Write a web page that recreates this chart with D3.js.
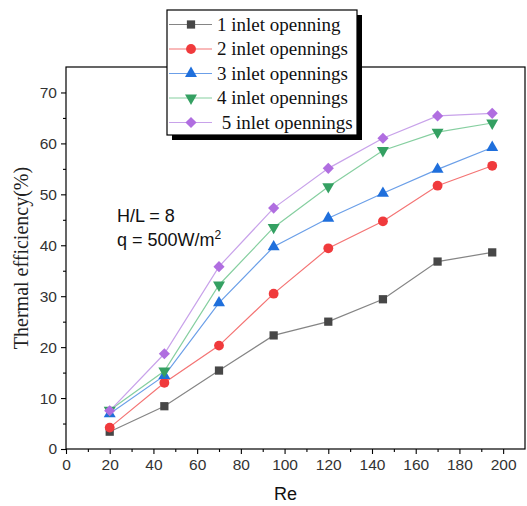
<!DOCTYPE html>
<html>
<head>
<meta charset="utf-8">
<script src="https://cdn.jsdelivr.net/npm/d3@7"></script>
<style>
  html, body { margin: 0; padding: 0; background: #fff; }
  svg { display: block; }
</style>
</head>
<body>
<svg id="chart" width="527" height="506"></svg>
<script>
// Reynolds numbers along the x axis
const reValues = [20, 45, 70, 95, 120, 145, 170, 195];

// Thermal efficiency (%) for each number of inlet openings
const open1 = [3.4, 8.4, 15.4, 22.3, 25.0, 29.4, 36.8, 38.6];
const open2 = [4.2, 13.0, 20.3, 30.5, 39.4, 44.7, 51.7, 55.6];
const open3 = [6.9, 14.4, 28.7, 39.7, 45.3, 50.2, 54.9, 59.2];
const open4 = [7.6, 15.3, 32.2, 43.5, 51.5, 58.6, 62.2, 64.0];
const open5 = [7.5, 18.7, 35.8, 47.3, 55.1, 61.0, 65.4, 65.9];

const seriesNames = [
  "1 inlet openning",
  "2 inlet opennings",
  "3 inlet opennings",
  "4 inlet opennings",
  " 5 inlet opennings"
];

const xTicks = [0, 20, 40, 60, 80, 100, 120, 140, 160, 180, 200];
const yTicks = [0, 10, 20, 30, 40, 50, 60, 70];

const series = [
  { name: seriesNames[0], values: open1, line: "#858585", fill: "#474747", symbol: d3.symbolSquare, size: 68, rot: 0 },
  { name: seriesNames[1], values: open2, line: "#f47474", fill: "#f03a3c", symbol: d3.symbolCircle, size: 76, rot: 0 },
  { name: seriesNames[2], values: open3, line: "#6b9fe8", fill: "#1f6fdc", symbol: d3.symbolTriangle, size: 62, rot: 0 },
  { name: seriesNames[3], values: open4, line: "#86cfa0", fill: "#34a062", symbol: d3.symbolTriangle, size: 62, rot: 180 },
  { name: seriesNames[4], values: open5, line: "#c8a2ea", fill: "#b06ee0", symbol: d3.symbolSquare, size: 62, rot: 45 }
];

const svg = d3.select("#chart");
const W = 527, H = 506;
const plot = { left: 66, right: 525, top: 67, bottom: 449 };

const x = d3.scaleLinear().domain([0, 210]).range([plot.left, plot.right]);
const y = d3.scaleLinear().domain([0, 75]).range([plot.bottom, plot.top]);

svg.append("rect").attr("width", W).attr("height", H).attr("fill", "#fff");

// frame
svg.append("rect")
  .attr("x", plot.left).attr("y", plot.top)
  .attr("width", plot.right - plot.left).attr("height", plot.bottom - plot.top)
  .attr("fill", "none").attr("stroke", "#000").attr("stroke-width", 1.2);

const tickFont = "'Liberation Sans', Arial, sans-serif";
const serifFont = "'Liberation Serif', 'Times New Roman', serif";

// x axis: major ticks with labels, minor ticks between
const xAxis = d3.axisBottom(x).tickValues(xTicks).tickSize(5).tickPadding(5).tickFormat(d3.format("d"));
const gx = svg.append("g").attr("transform", `translate(0,${plot.bottom})`).call(xAxis);
gx.select(".domain").remove();
gx.selectAll("line").attr("stroke", "#000").attr("stroke-width", 1.1);
gx.selectAll("text").attr("font-family", tickFont).attr("font-size", 15.5).attr("fill", "#333");
const gxMinor = svg.append("g").attr("transform", `translate(0,${plot.bottom})`)
  .call(d3.axisBottom(x).tickValues(d3.range(10, 210, 20)).tickSize(3).tickFormat(""));
gxMinor.select(".domain").remove();
gxMinor.selectAll("line").attr("stroke", "#000").attr("stroke-width", 1.1);

// y axis
const yAxis = d3.axisLeft(y).tickValues(yTicks).tickSize(5).tickPadding(4).tickFormat(d3.format("d"));
const gy = svg.append("g").attr("transform", `translate(${plot.left},0)`).call(yAxis);
gy.select(".domain").remove();
gy.selectAll("line").attr("stroke", "#000").attr("stroke-width", 1.1);
gy.selectAll("text").attr("font-family", tickFont).attr("font-size", 15.5).attr("fill", "#333");
const gyMinor = svg.append("g").attr("transform", `translate(${plot.left},0)`)
  .call(d3.axisLeft(y).tickValues(d3.range(5, 75, 10)).tickSize(3).tickFormat(""));
gyMinor.select(".domain").remove();
gyMinor.selectAll("line").attr("stroke", "#000").attr("stroke-width", 1.1);

// axis titles
svg.append("text")
  .attr("x", (plot.left + plot.right) / 2 - 10).attr("y", 500)
  .attr("text-anchor", "middle")
  .attr("font-family", tickFont).attr("font-size", 18).attr("fill", "#111")
  .text("Re");

svg.append("text")
  .attr("transform", `translate(28,${(plot.top + plot.bottom) / 2}) rotate(-90)`)
  .attr("text-anchor", "middle")
  .attr("font-family", serifFont).attr("font-size", 20).attr("fill", "#222")
  .text("Thermal efficiency(%)");

// annotation
const note = svg.append("g").attr("font-family", tickFont).attr("font-size", 18).attr("fill", "#111");
note.append("text").attr("x", 117).attr("y", 222).text("H/L = 8");
const q = note.append("text").attr("x", 117).attr("y", 246);
q.append("tspan").text("q = 500W/m");
q.append("tspan").attr("font-size", 12).attr("dy", -7).text("2");

// series lines and markers
const line = d3.line().x((d, i) => x(reValues[i])).y(d => y(d));
series.forEach(s => {
  svg.append("path")
    .datum(s.values)
    .attr("d", line)
    .attr("fill", "none")
    .attr("stroke", s.line)
    .attr("stroke-width", 1.2);
});
series.forEach(s => {
  svg.append("g").selectAll("path")
    .data(s.values)
    .join("path")
    .attr("transform", (d, i) => `translate(${x(reValues[i])},${y(d)}) rotate(${s.rot})`)
    .attr("d", d3.symbol().type(s.symbol).size(s.size))
    .attr("fill", s.fill);
});

// legend with drop shadow
const lg = { x: 167, y: 10, w: 190, h: 125, row: 24.5 };
svg.append("rect")
  .attr("x", lg.x + 5).attr("y", lg.y + 5).attr("width", lg.w).attr("height", lg.h)
  .attr("fill", "#000");
svg.append("rect")
  .attr("x", lg.x).attr("y", lg.y).attr("width", lg.w).attr("height", lg.h)
  .attr("fill", "#fff").attr("stroke", "#000").attr("stroke-width", 1.2);

series.forEach((s, i) => {
  const cy = lg.y + 14.5 + i * lg.row;
  svg.append("line")
    .attr("x1", lg.x + 2).attr("x2", lg.x + 45).attr("y1", cy).attr("y2", cy)
    .attr("stroke", s.line).attr("stroke-width", 1.2);
  svg.append("path")
    .attr("transform", `translate(${lg.x + 24},${cy}) rotate(${s.rot})`)
    .attr("d", d3.symbol().type(s.symbol).size(s.size))
    .attr("fill", s.fill);
  svg.append("text")
    .attr("x", lg.x + 50).attr("y", cy + 6)
    .attr("font-family", serifFont)
    .attr("font-size", 19).attr("fill", "#111")
    .attr("xml:space", "preserve").style("white-space", "pre")
    .text(s.name);
});
</script>
</body>
</html>
